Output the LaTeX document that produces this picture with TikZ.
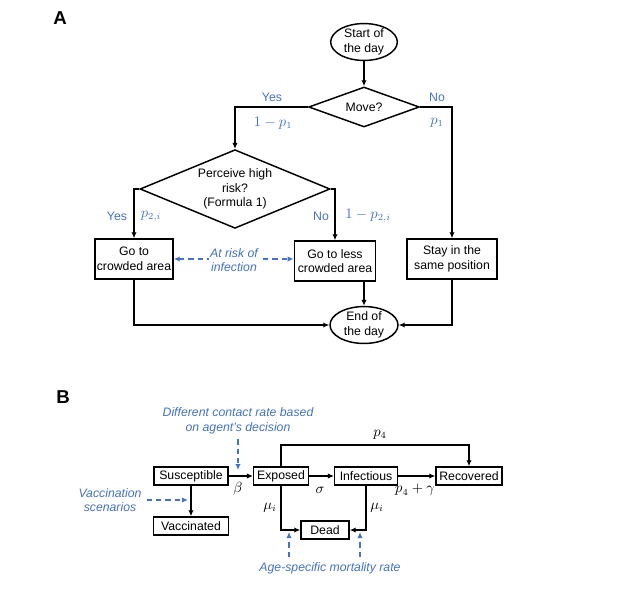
\documentclass[tikz,border=0pt]{standalone}
\usepackage{fontspec}
\setmainfont{Liberation Sans}
\usepackage{amsmath}
\usetikzlibrary{shapes.geometric,arrows.meta}
\definecolor{riskblue}{RGB}{68,114,196}

\begin{document}
\begin{tikzpicture}[x=0.75pt, y=-0.75pt, line width=1.1pt, font=\fontsize{9.2}{11}\selectfont,
  >={Latex[length=4.5pt,width=4pt]},
  box/.style={draw, rectangle, inner sep=1pt, minimum height=30pt, align=center},
  sbox/.style={draw, rectangle, inner sep=1pt, minimum height=13.5pt},
  oval/.style={draw, ellipse, inner sep=0pt, minimum width=50pt, minimum height=27pt, align=center},
  ask/.style={draw, diamond, inner sep=0pt, aspect=2.4, align=center},
  note/.style={riskblue, font=\fontsize{9.2}{11}\selectfont\itshape, align=center},
  rate/.style={font=\fontsize{10.5}{12}\selectfont},
  lbl/.style={riskblue, font=\fontsize{10.5}{12}\selectfont}]
\tikzset{blueline/.style={riskblue, dash pattern=on 4pt off 3pt}}
\useasboundingbox (0,0) rectangle (617,600); % page size
% panel A
\node[font=\fontsize{14}{16}\selectfont\bfseries] (tagA) at (60,18) {A}; % panel letter
\node[oval] (daystart) at (364,42) {Start of\\the day}; % start
\node[ask, minimum width=83pt, minimum height=30pt] (move) at (364,107) {Move?}; % first decision
\node[ask, minimum width=142.5pt, minimum height=59pt] (risk) at (235,189) {Perceive high\\risk?\\(Formula 1)}; % second decision
\node[box, minimum width=58.5pt] (crowd) at (134,259) {Go to\\crowded area}; % crowded
\node[box, minimum width=61pt] (less) at (335,261) {Go to less\\crowded area}; % less crowded
\node[box, minimum width=67.5pt] (stay) at (452,259) {Stay in the\\same position}; % stay
\node[oval, minimum width=51pt, minimum height=26pt] (dayend) at (364,325) {End of\\the day}; % end
\draw[->] (daystart) -- (move); % start to move
\draw[->] (move.west) -| (risk.north); % yes branch
\draw[->] (move.east) -| (stay.north); % no branch
\draw[->] (risk.west) -| (crowd.north); % high risk yes
\draw[->] (risk.east) -| (less.north); % high risk no
\draw[->] (less.south -| dayend.north) -- (dayend.north); % less to end
\draw[->] (crowd.south) |- (dayend.west); % crowded to end
\draw[->] (stay.south) |- (dayend.east); % stay to end
\draw[blueline, <->] (crowd.east) -- (crowd.east -| less.west); % risk link
\node[note, fill=white, inner sep=1pt] (infect) at (234,260) {At risk of\\infection}; % risk text
\node[riskblue] (yes1) at (272,97) {Yes}; % labels
\node[lbl] (prob1) at (273,123) {$1-p_1$};
\node[riskblue] (no1) at (437,97) {No};
\node[lbl] (prob2) at (437,123) {$p_1$};
\node[riskblue] (yes2) at (117,216) {Yes};
\node[lbl] (prob3) at (151,216) {$p_{2,i}$};
\node[riskblue] (no2) at (321,216) {No};
\node[lbl] (prob4) at (368,216) {$1-p_{2,i}$};
% panel B
\node[font=\fontsize{14}{16}\selectfont\bfseries] (tagB) at (63,397) {B}; % panel letter
\node[sbox, minimum width=55.5pt] (sus) at (191,476) {Susceptible}; % compartments
\node[sbox, minimum width=41pt] (exp) at (281,476) {Exposed};
\node[sbox, minimum width=47pt] (inf) at (366,476) {Infectious};
\node[sbox, minimum width=49.5pt] (rec) at (469,476) {Recovered};
\node[sbox, minimum width=56pt] (vac) at (191,526) {Vaccinated};
\node[sbox, minimum width=36pt] (dead) at (325,530) {Dead};
\coordinate (bend) at (375,445); % top route
\draw[->] (sus) -- (exp); % infection
\draw[->] (exp) -- (inf); % onset
\draw[->] (inf) -- (rec); % recovery
\draw[->] (exp.north) |- (bend) -| (rec.north); % direct recovery
\draw[->] (sus) -- (vac); % vaccination
\draw[->] (exp.south) |- (dead.west); % death from exposed
\draw[->] (inf.south) |- (dead.east); % death from infectious
\node[rate] (beta) at (238,489) {$\beta$}; % rates
\node[rate] (sigma) at (320,490) {$\sigma$};
\node[rate] (gamma) at (415,490) {$p_4+\gamma$};
\node[rate] (ptop) at (380,435) {$p_4$};
\node[rate] (mu1) at (270,508) {$\mu_i$};
\node[rate] (mu2) at (377,508) {$\mu_i$};
\node[note] (contact) at (238,421) {Different contact rate based\\on agent's decision}; % notes
\node[note] (vaccine) at (110,500) {Vaccination\\scenarios};
\node[note] (age) at (330,568) {Age-specific mortality rate};
\coordinate (betapt) at (238,470); % note targets
\coordinate (vacpt) at (188,500);
\coordinate (mort1) at (289,532);
\coordinate (mort2) at (360,532);
\draw[blueline, ->] (contact.south) -- (betapt); % contact arrow
\draw[blueline, ->] (vaccine.east) -- (vacpt); % vaccine arrow
\draw[blueline, ->] (mort1 |- age.north) -- (mort1); % mortality arrows
\draw[blueline, ->] (mort2 |- age.north) -- (mort2);
\end{tikzpicture}
\end{document}
